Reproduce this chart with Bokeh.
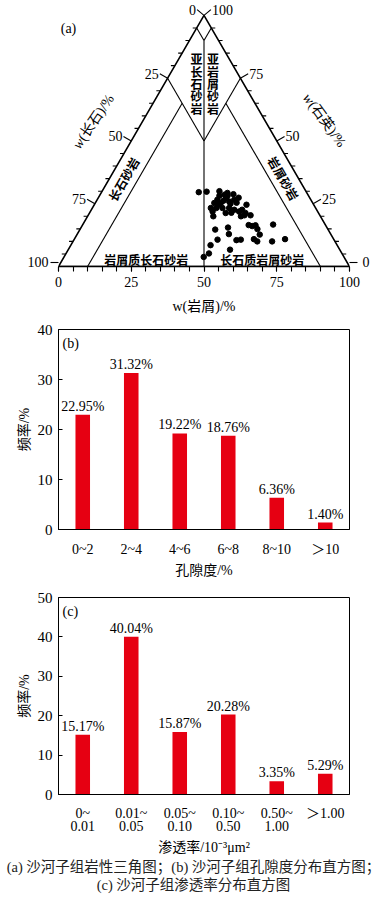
import math
import numpy as np
from bokeh.plotting import figure
from bokeh.models import Range1d, FactorRange, Div, Label, Arrow, FixedTicker, LinearAxis
from bokeh.layouts import column
from bokeh.core.properties import value
from bokeh.embed import file_html
from bokeh.resources import INLINE

# ---------------- data ----------------
# ternary sample compositions (%): quartz, rock fragments (岩屑), feldspar (长石)
quartz = [29.6, 29.8, 30.0, 28.6, 29.3, 28.8, 27.3, 26.6, 25.3, 25.3, 25.9, 26.6, 24.6, 23.3,
          23.3, 23.3, 22.6, 21.9, 21.9, 21.3, 21.3, 20.0, 20.0, 23.3, 22.6, 20.4, 20.4, 16.5,
          16.1, 16.4, 14.9, 16.7, 14.7, 15.5, 12.9, 12.7, 10.7, 10.5, 10.7, 10.9, 10.0, 10.0,
          10.9, 8.5, 6.7, 5.2, 3.8, 28.2, 25.0, 26.2, 25.4, 24.6, 28.2, 27.4, 21.4]
rock_frag = [33.4, 36.0, 40.3, 42.8, 43.4, 45.7, 43.9, 41.3, 40.9, 43.1, 45.7, 47.1, 52.3, 42.6,
             44.7, 47.0, 49.1, 51.1, 42.0, 46.8, 53.6, 52.7, 43.2, 40.7, 51.8, 53.7, 55.8, 57.1,
             58.5, 59.5, 60.9, 65.4, 46.5, 50.5, 52.1, 62.8, 49.3, 55.9, 57.3, 61.7, 63.3, 68.4,
             72.4, 48.0, 55.6, 49.1, 48.0, 41.2, 46.6, 43.6, 48.5, 42.7, 44.0, 48.2, 48.7]
feldspar = [37.0, 34.2, 29.7, 28.6, 27.3, 25.5, 28.8, 32.1, 33.8, 31.6, 28.4, 26.3, 23.1, 34.1,
            32.0, 29.7, 28.3, 27.0, 36.1, 31.9, 25.1, 27.3, 36.8, 36.0, 25.6, 25.9, 23.8, 26.4,
            25.4, 24.1, 24.2, 17.9, 38.8, 34.0, 35.0, 24.5, 40.0, 33.6, 32.0, 27.4, 26.7, 21.6,
            16.7, 43.5, 37.7, 45.7, 48.2, 30.6, 28.4, 30.2, 26.1, 32.7, 27.8, 24.4, 29.9]

tri_major = [0, 25, 50, 75, 100]
tri_minor = [5, 10, 15, 20, 30, 35, 40, 45, 55, 60, 65, 70, 80, 85, 90, 95]

# classification boundaries, each as ((Q, R), (Q, R)) compositions
boundaries = [((95, 0), (90, 5)), ((95, 5), (90, 5)), ((90, 5), (0, 50)),
              ((75, 0), (50, 25)), ((75, 25), (50, 25)),
              ((0, 10), (65, 10)), ((0, 90), (65, 25))]

por_cats = ["0~2", "2~4", "4~6", "6~8", "8~10", "＞10"]
por_freq = [22.95, 31.32, 19.22, 18.76, 6.36, 1.40]

perm_cats = ["0~\n0.01", "0.01~\n0.05", "0.05~\n0.10", "0.10~\n0.50", "0.50~\n1.00", "＞1.00"]
perm_freq = [15.17, 40.04, 15.87, 20.28, 3.35, 5.29]

# ---------------- style ----------------
SERIF = "'Liberation Serif', 'Noto Sans CJK SC'"
CJK = "'Noto Sans CJK SC'"
RED = "#e60012"
W = 387
S = 2.91                 # px per ternary unit
H3 = math.sqrt(3) / 2
BX, BY = 58, 267         # page position of the lower-left vertex
ML, MR = 58, 38          # left / right borders shared by all panels
HA = 316


def tern(q, r, f=None):
    q = np.asarray(q, float)
    r = np.asarray(r, float)
    if f is None:
        f = 100 - q - r
    tot = q + r + np.asarray(f, float)
    q = q / tot * 100
    r = r / tot * 100
    return r + q / 2, q * H3


def px(x, y):
    return (x - BX) / S, (BY - y) / S


def style_axis(ax_, size="14px"):
    ax_.major_label_text_font = SERIF
    ax_.major_label_text_font_size = size
    ax_.major_label_text_color = "black"
    ax_.axis_label_text_font = SERIF
    ax_.axis_label_text_font_size = "14px"
    ax_.axis_label_text_font_style = "normal"
    ax_.axis_label_text_color = "black"


# ---------------- (a) ternary ----------------
pA = figure(width=W, height=HA,
            x_range=Range1d(0, 100), y_range=Range1d(0, BY / S),
            output_backend="svg", toolbar_location=None, y_axis_location=None,
            min_border_left=ML, min_border_right=MR, min_border_top=0, min_border_bottom=HA - BY,
            outline_line_color=None,
            background_fill_color="white", border_fill_color="white")
pA.grid.visible = False
xa = pA.xaxis[0]
xa.ticker = FixedTicker(ticks=tri_major, minor_ticks=sorted(tri_major + tri_minor))
xa.axis_line_color = "black"
xa.axis_line_width = 1.6
xa.major_tick_in = 0
xa.major_tick_out = 5
xa.minor_tick_in = 0
xa.minor_tick_out = 5
xa.major_tick_line_color = "black"
xa.minor_tick_line_color = "black"
xa.major_tick_line_width = 1.1
xa.minor_tick_line_width = 1.1
xa.major_label_standoff = 5
xa.axis_label = "w(岩屑)/%"
xa.axis_label_standoff = 9
style_axis(xa)

# corner labels of the two slanted scales (outside the plotting frame)
corner_y = 1.5
for side, lbl, so in (("left", str(tri_major[-1]), 2), ("right", str(tri_major[0]), 5)):
    cax = LinearAxis(ticker=FixedTicker(ticks=[corner_y], minor_ticks=[]),
                     major_label_overrides={corner_y: lbl},
                     axis_line_color=None, major_tick_in=0, major_tick_out=8,
                     major_tick_line_color="black", major_tick_line_width=1.1,
                     minor_tick_line_color=None, major_label_standoff=so)
    style_axis(cax)
    pA.add_layout(cax, side)

cx, cy = tern([0, 0, 100, 0], [0, 100, 0, 0])
pA.line(cx, cy, line_color="black", line_width=1.6)

bx0, by0 = tern([b[0][0] for b in boundaries], [b[0][1] for b in boundaries])
bx1, by1 = tern([b[1][0] for b in boundaries], [b[1][1] for b in boundaries])
pA.segment(bx0, by0, bx1, by1, line_color="black", line_width=1.1)

lab_kw = dict(text_font=SERIF, text_font_size="14px", text_color="black", text_baseline="middle")

# left side (feldspar: 0 at apex, 100 at lower-left)
lx, ly = tern([100 - v for v in tri_minor], [0] * len(tri_minor))
pA.segment(lx, ly, lx - 4 / S, ly, line_color="black", line_width=1.1)
lmx, lmy = tern([100 - v for v in tri_major], [0] * len(tri_major))
for v, x, y in list(zip(tri_major, lmx, lmy))[:-1]:
    a = math.radians(40 if v == 0 else 30)
    ex, ey = x - 9 * math.cos(a) / S, y + 9 * math.sin(a) / S
    pA.add_layout(Arrow(x_start=x, y_start=y, x_end=ex, y_end=ey, start=None, end=None,
                        line_color="black", line_width=1.1))
    pA.add_layout(Label(x=ex - 1 / S, y=ey, text=str(v), text_align="right", **lab_kw))

# right side (quartz: 100 at apex, 0 at lower-right)
rx, ry = tern(tri_minor, [100 - v for v in tri_minor])
pA.segment(rx, ry, rx + 4 / S, ry, line_color="black", line_width=1.1)
rmx, rmy = tern(tri_major, [100 - v for v in tri_major])
for v, x, y in list(zip(tri_major, rmx, rmy))[1:]:
    a = math.radians(40 if v == 100 else 30)
    ex, ey = x + 9 * math.cos(a) / S, y + 9 * math.sin(a) / S
    pA.add_layout(Arrow(x_start=x, y_start=y, x_end=ex, y_end=ey, start=None, end=None,
                        line_color="black", line_width=1.1))
    pA.add_layout(Label(x=ex + 1 / S, y=ey, text=str(v), text_align="left", **lab_kw))

# samples
sx, sy = tern(quartz, rock_frag, feldspar)
pA.scatter(sx, sy, size=5.5, fill_color="black", line_color="black")

# region names
region_font = dict(text_font=value(CJK), text_font_style="bold", text_font_size="12px",
                   text_color="black", text_align="center", text_baseline="middle")
vchars, vx, vy = [], [], []
for word, xp in [("亚长石砂岩", 196.0), ("亚岩屑砂岩", 212.5)]:
    for i, ch in enumerate(word):
        dx, dy = px(xp, 58.3 + 12.5 * i)
        vchars.append(ch)
        vx.append(dx)
        vy.append(dy)
pA.text(vx, vy, text=vchars, **region_font)
for name, (x, y), a in [("长石砂岩", (122.7, 179.3), 60),
                        ("岩屑砂岩", (283.3, 178.3), -60),
                        ("岩屑质长石砂岩", (145.7, 260), 0),
                        ("长石质岩屑砂岩", (261.7, 260), 0)]:
    dx, dy = px(x, y)
    pA.text([dx], [dy], text=[name], angle=math.radians(a), **region_font)

# slanted axis titles (italic w + rest)
for rest, (x, y), a in [("(长石)/%", (75.5, 147.5), 56),
                        ("(石英)/%", (305.5, 95.0), -54)]:
    r = math.radians(a)
    dx, dy = px(x, y)
    pA.add_layout(Label(x=dx, y=dy, text="w", angle=r, text_font_style="italic",
                        text_align="left", **lab_kw))
    pA.add_layout(Label(x=dx + 9.5 * math.cos(r) / S, y=dy + 9.5 * math.sin(r) / S, text=rest,
                        angle=r, text_align="left", **lab_kw))

ax, ay = px(68, 28)
pA.add_layout(Label(x=ax, y=ay, text="(a)", text_align="center", **lab_kw))


# ---------------- (b), (c) histograms ----------------
def bar_fig(cats, vals, ymax, tag, tag_y, xtitle, h, top, bottom, lab_standoff):
    p = figure(width=W, height=h, x_range=FactorRange(*cats), y_range=Range1d(0, ymax),
               output_backend="svg", toolbar_location=None,
               min_border_left=ML, min_border_right=MR,
               min_border_top=top, min_border_bottom=bottom,
               background_fill_color="white", border_fill_color="white")
    p.vbar(x=cats, top=vals, width=0.3, fill_color=RED, line_color=None)
    p.text(x=cats, y=vals, text=[f"{v:.2f}%" for v in vals], text_align="center",
           text_baseline="bottom", y_offset=-1, text_font=value(SERIF),
           text_font_size="14px", text_color="black")
    p.add_layout(Label(x=0.0825, y=tag_y, text=tag, text_align="left", text_baseline="middle",
                       text_font=SERIF, text_font_size="14px", text_color="black"))
    p.grid.visible = False
    p.outline_line_color = "black"
    p.outline_line_width = 1
    for ax_ in (p.xaxis, p.yaxis):
        ax_.axis_line_color = "black"
        ax_.minor_tick_line_color = None
        ax_.axis_label_standoff = 3
    style_axis(p.xaxis)
    style_axis(p.yaxis, "15px")
    p.xaxis.major_tick_line_color = None
    p.xaxis.major_label_text_line_height = 0.9
    p.xaxis.major_label_standoff = lab_standoff
    p.xaxis.axis_label = xtitle
    p.yaxis.ticker = list(range(0, ymax + 1, 10))
    p.yaxis.major_tick_in = 4
    p.yaxis.major_tick_out = 0
    p.yaxis.major_tick_line_color = "black"
    p.yaxis.major_label_standoff = 6
    p.yaxis.axis_label = "频率/%"
    return p


pB = bar_fig(por_cats, por_freq, 40, "(b)", 40 - 14 * 40 / 203, "孔隙度/%", 264, 13, 48, 6)
pC = bar_fig(perm_cats, perm_freq, 50, "(c)", 50 - 14.7 * 50 / 204, "渗透率/10⁻³μm²", 278, 17, 57, 5)

caption = Div(text=("<div style=\"width:387px;text-align:center;font-family:'Liberation Serif','Noto Sans CJK SC';"
                    "font-size:14.5px;line-height:18px;color:#222;white-space:nowrap;\">"
                    "(a) 沙河子组岩性三角图；(b) 沙河子组孔隙度分布直方图；<br>"
                    "(c) 沙河子组渗透率分布直方图</div>"),
              width=W, height=48, margin=(0, 0, 0, 0))

layout = column(pA, pB, pC, caption, spacing=0)
open("out.html", "w").write(file_html(layout, INLINE))
